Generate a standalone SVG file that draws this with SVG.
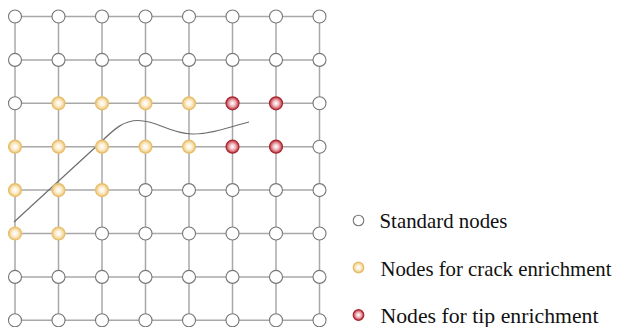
<svg xmlns="http://www.w3.org/2000/svg" width="619" height="327" viewBox="0 0 619 327">
  <defs>
    <radialGradient id="gCrack" cx="50%" cy="50%" r="50%">
      <stop offset="0" stop-color="#ffffff"/>
      <stop offset="0.45" stop-color="#fbefd6"/>
      <stop offset="1" stop-color="#efc46e"/>
    </radialGradient>
    <radialGradient id="gTip" cx="50%" cy="50%" r="50%">
      <stop offset="0" stop-color="#ffffff"/>
      <stop offset="0.4" stop-color="#f1c6cb"/>
      <stop offset="1" stop-color="#c3303c"/>
    </radialGradient>
  </defs>
  <style>
    .grid line { stroke: #a8a8a8; stroke-width: 1.5; }
    .std { fill: #ffffff; stroke: #777777; stroke-width: 1.1; }
    .crack { fill: url(#gCrack); stroke: #e6bd6a; stroke-width: 1.2; }
    .tip { fill: url(#gTip); stroke: #a82530; stroke-width: 1.2; }
    .crackline { fill: none; stroke: #6e6e6e; stroke-width: 1.2; }
    .label { font-family: "Liberation Serif", "Times New Roman", serif; font-size: 21px; fill: #111111; }
  </style>

  <!-- mesh lines -->
  <g id="connectors" class="grid">
    <line x1="15" y1="16.5" x2="319.5" y2="16.5"/>
    <line x1="15" y1="59.9" x2="319.5" y2="59.9"/>
    <line x1="15" y1="103.3" x2="319.5" y2="103.3"/>
    <line x1="15" y1="146.7" x2="319.5" y2="146.7"/>
    <line x1="15" y1="190.1" x2="319.5" y2="190.1"/>
    <line x1="15" y1="233.5" x2="319.5" y2="233.5"/>
    <line x1="15" y1="276.9" x2="319.5" y2="276.9"/>
    <line x1="15" y1="320.3" x2="319.5" y2="320.3"/>
    <line x1="15" y1="16.5" x2="15" y2="320.3"/>
    <line x1="58.5" y1="16.5" x2="58.5" y2="320.3"/>
    <line x1="102" y1="16.5" x2="102" y2="320.3"/>
    <line x1="145.5" y1="16.5" x2="145.5" y2="320.3"/>
    <line x1="189" y1="16.5" x2="189" y2="320.3"/>
    <line x1="232.5" y1="16.5" x2="232.5" y2="320.3"/>
    <line x1="276" y1="16.5" x2="276" y2="320.3"/>
    <line x1="319.5" y1="16.5" x2="319.5" y2="320.3"/>
  </g>

  <!-- crack path -->
  <path id="crack" class="crackline" d="M14,222 L100,143 C115,128 124,120.5 138,120.5 C158,120.5 168,133 192,134 C212,134.5 232,126 249,122"/>

  <!-- nodes -->
  <g id="nodes">
    <!-- row 1 -->
    <g id="n-1-1"><circle class="std" cx="15" cy="16.5" r="6.5"/></g>
    <g id="n-1-2"><circle class="std" cx="58.5" cy="16.5" r="6.5"/></g>
    <g id="n-1-3"><circle class="std" cx="102" cy="16.5" r="6.5"/></g>
    <g id="n-1-4"><circle class="std" cx="145.5" cy="16.5" r="6.5"/></g>
    <g id="n-1-5"><circle class="std" cx="189" cy="16.5" r="6.5"/></g>
    <g id="n-1-6"><circle class="std" cx="232.5" cy="16.5" r="6.5"/></g>
    <g id="n-1-7"><circle class="std" cx="276" cy="16.5" r="6.5"/></g>
    <g id="n-1-8"><circle class="std" cx="319.5" cy="16.5" r="6.5"/></g>
    <!-- row 2 -->
    <g id="n-2-1"><circle class="std" cx="15" cy="59.9" r="6.5"/></g>
    <g id="n-2-2"><circle class="std" cx="58.5" cy="59.9" r="6.5"/></g>
    <g id="n-2-3"><circle class="std" cx="102" cy="59.9" r="6.5"/></g>
    <g id="n-2-4"><circle class="std" cx="145.5" cy="59.9" r="6.5"/></g>
    <g id="n-2-5"><circle class="std" cx="189" cy="59.9" r="6.5"/></g>
    <g id="n-2-6"><circle class="std" cx="232.5" cy="59.9" r="6.5"/></g>
    <g id="n-2-7"><circle class="std" cx="276" cy="59.9" r="6.5"/></g>
    <g id="n-2-8"><circle class="std" cx="319.5" cy="59.9" r="6.5"/></g>
    <!-- row 3 -->
    <g id="n-3-1"><circle class="std" cx="15" cy="103.3" r="6.5"/></g>
    <g id="n-3-2"><circle class="crack" cx="58.5" cy="103.3" r="6.5"/></g>
    <g id="n-3-3"><circle class="crack" cx="102" cy="103.3" r="6.5"/></g>
    <g id="n-3-4"><circle class="crack" cx="145.5" cy="103.3" r="6.5"/></g>
    <g id="n-3-5"><circle class="crack" cx="189" cy="103.3" r="6.5"/></g>
    <g id="n-3-6"><circle class="tip" cx="232.5" cy="103.3" r="6.5"/></g>
    <g id="n-3-7"><circle class="tip" cx="276" cy="103.3" r="6.5"/></g>
    <g id="n-3-8"><circle class="std" cx="319.5" cy="103.3" r="6.5"/></g>
    <!-- row 4 -->
    <g id="n-4-1"><circle class="crack" cx="15" cy="146.7" r="6.5"/></g>
    <g id="n-4-2"><circle class="crack" cx="58.5" cy="146.7" r="6.5"/></g>
    <g id="n-4-3"><circle class="crack" cx="102" cy="146.7" r="6.5"/></g>
    <g id="n-4-4"><circle class="crack" cx="145.5" cy="146.7" r="6.5"/></g>
    <g id="n-4-5"><circle class="crack" cx="189" cy="146.7" r="6.5"/></g>
    <g id="n-4-6"><circle class="tip" cx="232.5" cy="146.7" r="6.5"/></g>
    <g id="n-4-7"><circle class="tip" cx="276" cy="146.7" r="6.5"/></g>
    <g id="n-4-8"><circle class="std" cx="319.5" cy="146.7" r="6.5"/></g>
    <!-- row 5 -->
    <g id="n-5-1"><circle class="crack" cx="15" cy="190.1" r="6.5"/></g>
    <g id="n-5-2"><circle class="crack" cx="58.5" cy="190.1" r="6.5"/></g>
    <g id="n-5-3"><circle class="crack" cx="102" cy="190.1" r="6.5"/></g>
    <g id="n-5-4"><circle class="std" cx="145.5" cy="190.1" r="6.5"/></g>
    <g id="n-5-5"><circle class="std" cx="189" cy="190.1" r="6.5"/></g>
    <g id="n-5-6"><circle class="std" cx="232.5" cy="190.1" r="6.5"/></g>
    <g id="n-5-7"><circle class="std" cx="276" cy="190.1" r="6.5"/></g>
    <g id="n-5-8"><circle class="std" cx="319.5" cy="190.1" r="6.5"/></g>
    <!-- row 6 -->
    <g id="n-6-1"><circle class="crack" cx="15" cy="233.5" r="6.5"/></g>
    <g id="n-6-2"><circle class="crack" cx="58.5" cy="233.5" r="6.5"/></g>
    <g id="n-6-3"><circle class="std" cx="102" cy="233.5" r="6.5"/></g>
    <g id="n-6-4"><circle class="std" cx="145.5" cy="233.5" r="6.5"/></g>
    <g id="n-6-5"><circle class="std" cx="189" cy="233.5" r="6.5"/></g>
    <g id="n-6-6"><circle class="std" cx="232.5" cy="233.5" r="6.5"/></g>
    <g id="n-6-7"><circle class="std" cx="276" cy="233.5" r="6.5"/></g>
    <g id="n-6-8"><circle class="std" cx="319.5" cy="233.5" r="6.5"/></g>
    <!-- row 7 -->
    <g id="n-7-1"><circle class="std" cx="15" cy="276.9" r="6.5"/></g>
    <g id="n-7-2"><circle class="std" cx="58.5" cy="276.9" r="6.5"/></g>
    <g id="n-7-3"><circle class="std" cx="102" cy="276.9" r="6.5"/></g>
    <g id="n-7-4"><circle class="std" cx="145.5" cy="276.9" r="6.5"/></g>
    <g id="n-7-5"><circle class="std" cx="189" cy="276.9" r="6.5"/></g>
    <g id="n-7-6"><circle class="std" cx="232.5" cy="276.9" r="6.5"/></g>
    <g id="n-7-7"><circle class="std" cx="276" cy="276.9" r="6.5"/></g>
    <g id="n-7-8"><circle class="std" cx="319.5" cy="276.9" r="6.5"/></g>
    <!-- row 8 -->
    <g id="n-8-1"><circle class="std" cx="15" cy="320.3" r="6.5"/></g>
    <g id="n-8-2"><circle class="std" cx="58.5" cy="320.3" r="6.5"/></g>
    <g id="n-8-3"><circle class="std" cx="102" cy="320.3" r="6.5"/></g>
    <g id="n-8-4"><circle class="std" cx="145.5" cy="320.3" r="6.5"/></g>
    <g id="n-8-5"><circle class="std" cx="189" cy="320.3" r="6.5"/></g>
    <g id="n-8-6"><circle class="std" cx="232.5" cy="320.3" r="6.5"/></g>
    <g id="n-8-7"><circle class="std" cx="276" cy="320.3" r="6.5"/></g>
    <g id="n-8-8"><circle class="std" cx="319.5" cy="320.3" r="6.5"/></g>
  </g>

  <!-- legend -->
  <g id="legend">
    <circle class="std" cx="358.5" cy="220.5" r="5.3"/>
    <text class="label" x="379.5" y="228" textLength="128" lengthAdjust="spacingAndGlyphs">Standard nodes</text>
    <circle class="crack" cx="358.5" cy="267.5" r="5.3"/>
    <text class="label" x="380.5" y="276" textLength="231" lengthAdjust="spacingAndGlyphs">Nodes for crack enrichment</text>
    <circle class="tip" cx="358.5" cy="315" r="5.3"/>
    <text class="label" x="380.5" y="322.5" textLength="218" lengthAdjust="spacingAndGlyphs">Nodes for tip enrichment</text>
  </g>
</svg>
